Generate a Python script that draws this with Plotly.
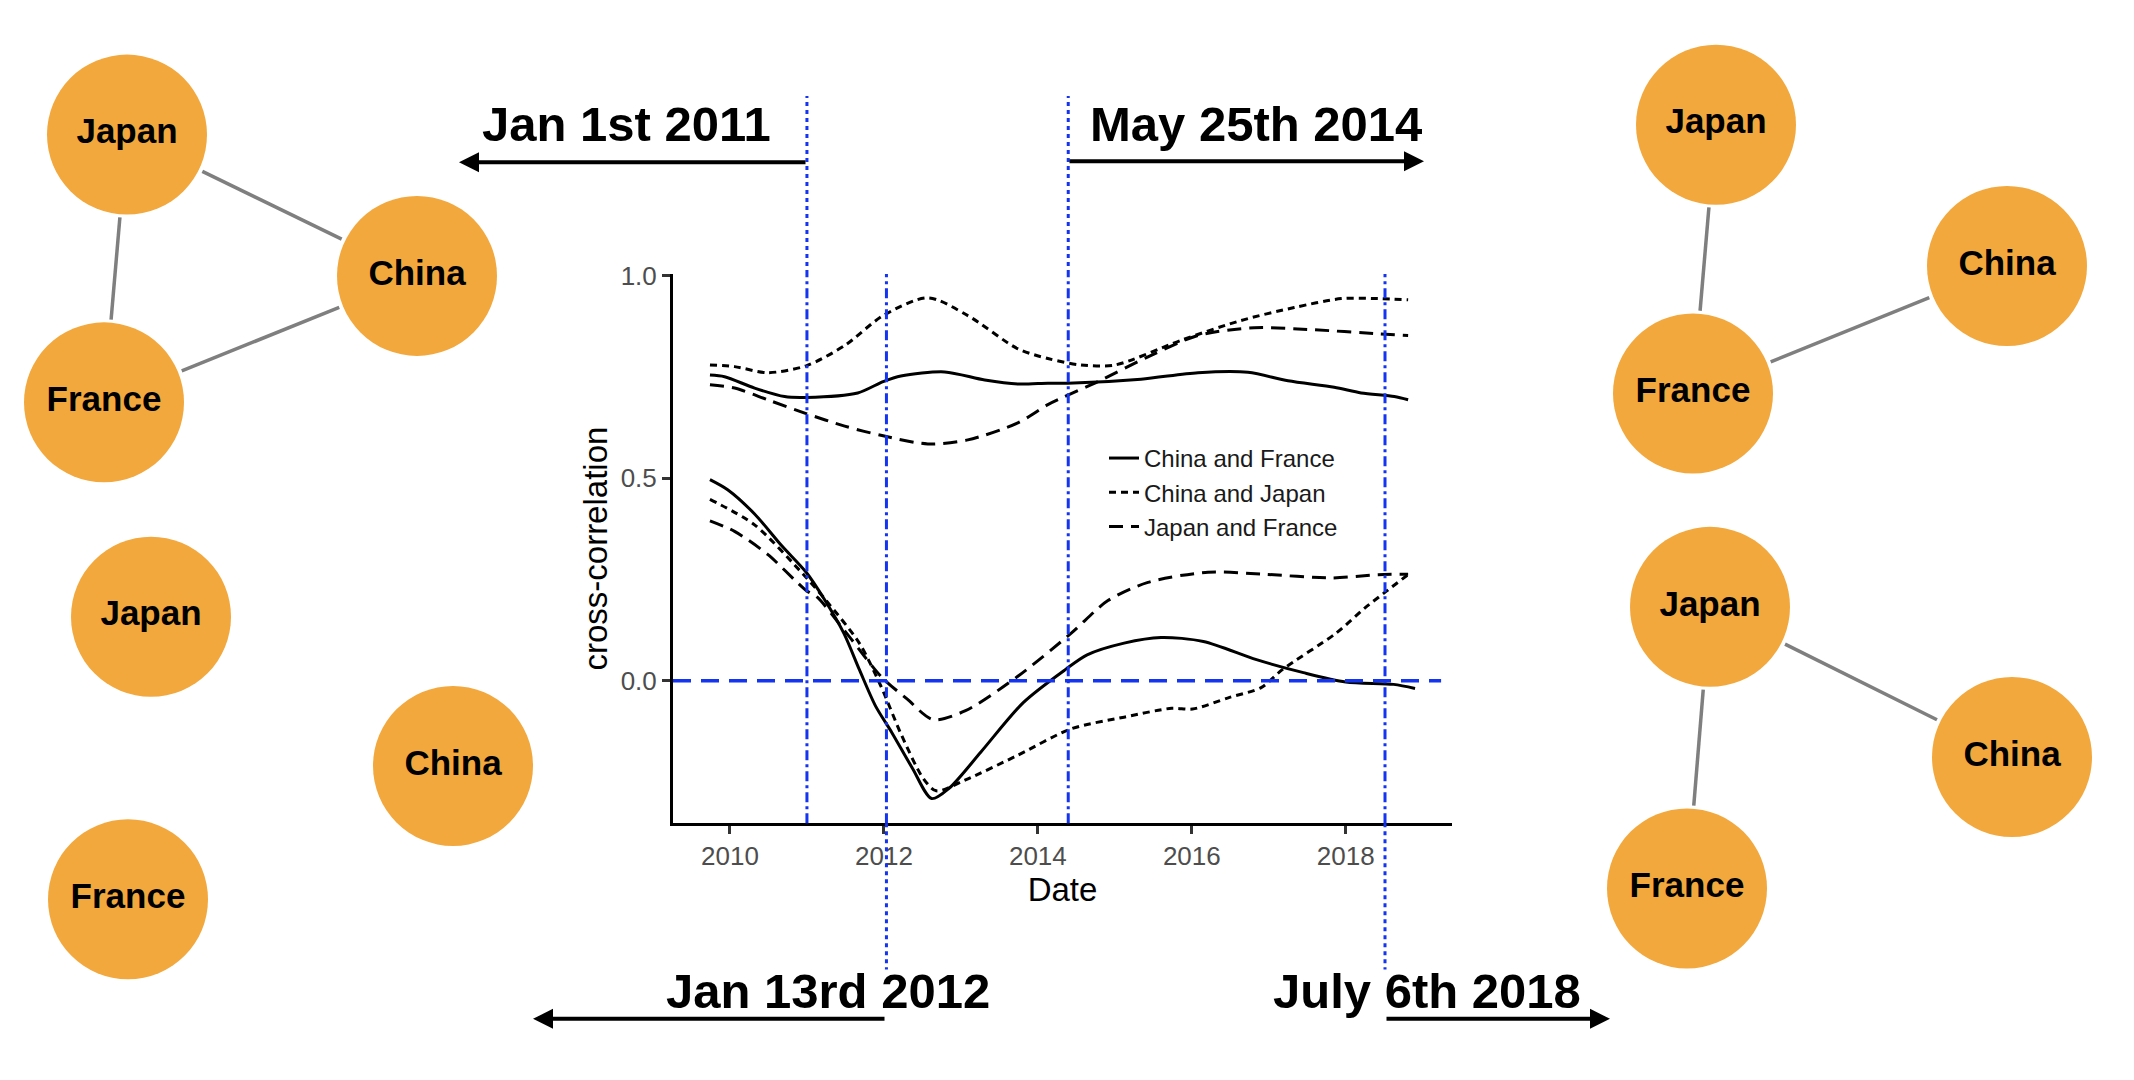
import plotly.graph_objects as go
from datetime import date

W, H = 2134, 1080

# ---- cross-correlation curves (decimal year, value) ----
cf_hi_x = [2009.74, 2009.93, 2010.32, 2010.71, 2010.99, 2011.66, 2011.99, 2012.22, 2012.79, 2013.31,
           2013.74, 2014.13, 2014.39, 2015.34, 2016.08, 2016.73, 2017.25, 2017.85, 2018.20, 2018.63, 2018.81]
cf_hi_y = [0.755, 0.751, 0.723, 0.702, 0.700, 0.711, 0.739, 0.753, 0.763, 0.743,
           0.733, 0.735, 0.735, 0.745, 0.761, 0.762, 0.741, 0.725, 0.711, 0.702, 0.694]

cj_hi_x = [2009.74, 2010.06, 2010.49, 2010.99, 2011.49, 2011.99, 2012.57, 2013.09, 2013.74, 2014.13,
           2014.56, 2015.00, 2015.86, 2016.64, 2017.33, 2017.94, 2018.42, 2018.81]
cj_hi_y = [0.780, 0.776, 0.761, 0.778, 0.828, 0.902, 0.946, 0.902, 0.820, 0.796,
           0.780, 0.780, 0.841, 0.890, 0.922, 0.944, 0.944, 0.941]

jf_hi_x = [2009.74, 2010.06, 2010.49, 2010.99, 2011.49, 2011.99, 2012.57, 2013.09, 2013.74, 2014.13,
           2014.35, 2014.78, 2015.43, 2016.08, 2016.81, 2017.59, 2018.42, 2018.81]
jf_hi_y = [0.731, 0.723, 0.694, 0.660, 0.629, 0.605, 0.585, 0.595, 0.637, 0.682,
           0.702, 0.739, 0.800, 0.853, 0.872, 0.867, 0.857, 0.853]

cf_lo_x = [2009.74, 2009.97, 2010.32, 2010.67, 2010.99, 2011.23, 2011.48, 2011.68, 2011.89, 2012.10,
           2012.37, 2012.62, 2012.85, 2013.26, 2013.81, 2014.36, 2014.64, 2015.12, 2015.60, 2016.15,
           2016.84, 2017.45, 2018.00, 2018.62, 2018.90]
cf_lo_y = [0.497, 0.472, 0.412, 0.334, 0.268, 0.200, 0.117, 0.028, -0.062, -0.127,
           -0.216, -0.291, -0.265, -0.176, -0.054, 0.028, 0.064, 0.093, 0.107, 0.097,
           0.052, 0.020, -0.003, -0.009, -0.019]

cj_lo_x = [2009.74, 2010.32, 2010.99, 2011.25, 2011.68, 2011.96, 2012.23, 2012.51, 2012.68, 2013.06,
           2013.74, 2014.43, 2015.12, 2015.74, 2016.01, 2016.49, 2016.90, 2017.18, 2017.87, 2018.25,
           2018.52, 2018.85]
cj_lo_y = [0.448, 0.385, 0.255, 0.198, 0.093, -0.013, -0.135, -0.241, -0.272, -0.245,
           -0.184, -0.119, -0.090, -0.068, -0.070, -0.041, -0.017, 0.028, 0.117, 0.180,
           0.220, 0.268]

jf_lo_x = [2009.74, 2010.06, 2010.49, 2010.99, 2011.13, 2011.55, 2011.96, 2012.30, 2012.64, 2013.06,
           2013.74, 2014.43, 2014.91, 2015.43, 2016.21, 2016.94, 2017.81, 2018.42, 2018.81]
jf_lo_y = [0.395, 0.369, 0.312, 0.223, 0.207, 0.109, 0.011, -0.045, -0.096, -0.074,
           0.011, 0.117, 0.198, 0.243, 0.268, 0.263, 0.254, 0.262, 0.263]

pair_names = ["China and France", "China and Japan", "Japan and France"]
x_ticks = [2010, 2012, 2014, 2016, 2018]
y_ticks = [0.0, 0.5, 1.0]

# ---- marked dates ----
event_dates = [date(2011, 1, 1), date(2012, 1, 13), date(2014, 5, 25), date(2018, 7, 6)]
event_labels = ["Jan 1st 2011", "Jan 13rd 2012", "May 25th 2014", "July 6th 2018"]

# ---- network snapshots (pixel positions on the page) ----
countries = ["Japan", "China", "France"]
node_x = [[119, 409, 96], [143, 445, 120], [1708, 1999, 1685], [1702, 2004, 1679]]
node_y = [[115, 258, 386], [603, 754, 889], [105, 248, 377], [593, 745, 878]]
edges = [[(0, 1), (0, 2), (2, 1)], [], [(0, 2), (2, 1)], [(0, 1), (0, 2)]]

BLUE = "#1434f0"
ORANGE = "#f2a83c"
R = 80
FONT = "Liberation Sans, Arial, sans-serif"


def dec_year(d):
    start = date(d.year, 1, 1)
    days = (date(d.year + 1, 1, 1) - start).days
    return d.year + (d - start).days / days


fig = go.Figure()

series = [(cf_hi_x, cf_hi_y, cf_lo_x, cf_lo_y, "solid"),
          (cj_hi_x, cj_hi_y, cj_lo_x, cj_lo_y, "7px,5px"),
          (jf_hi_x, jf_hi_y, jf_lo_x, jf_lo_y, "14px,8px")]
for name, (hx, hy, lx, ly, dash) in zip(pair_names, series):
    for k, (xs, ys) in enumerate([(hx, hy), (lx, ly)]):
        fig.add_trace(go.Scatter(
            x=xs, y=ys, mode="lines", name=name, legendgroup=name, showlegend=(k == 0),
            line=dict(color="black", width=3, dash=dash, shape="spline", smoothing=0.8),
            xaxis="x", yaxis="y"))

# network edges
for g in range(len(node_x)):
    ex, ey = [], []
    for a, b in edges[g]:
        x0, y0, x1, y1 = node_x[g][a], node_y[g][a], node_x[g][b], node_y[g][b]
        L = ((x1 - x0) ** 2 + (y1 - y0) ** 2) ** 0.5
        ux, uy = (x1 - x0) / L, (y1 - y0) / L
        off = R + 4
        ex += [x0 + ux * off, x1 - ux * off, None]
        ey += [y0 + uy * off, y1 - uy * off, None]
    if ex:
        fig.add_trace(go.Scatter(x=ex, y=ey, mode="lines", showlegend=False,
                                 line=dict(color="#7f7f7f", width=3.5),
                                 xaxis="x2", yaxis="y2", hoverinfo="skip"))

# network nodes
for g in range(len(node_x)):
    fig.add_trace(go.Scatter(
        x=node_x[g], y=node_y[g], mode="markers+text", showlegend=False,
        text=["<b>%s</b>" % c for c in countries],
        textposition="middle center",
        textfont=dict(family=FONT, size=35, color="black"),
        marker=dict(size=2 * R, color=ORANGE, line=dict(width=0)),
        xaxis="x2", yaxis="y2", hoverinfo="skip"))

shapes = []
shapes.append(dict(type="line", xref="x domain", yref="y", x0=0, x1=0.986, y0=0, y1=0,
                   line=dict(color=BLUE, width=3.5, dash="18px,10px")))
ev_x = [dec_year(d) for d in event_dates]
ev_above = [True, False, True, False]
for xv, above in zip(ev_x, ev_above):
    shapes.append(dict(type="line", xref="x", yref="y domain", x0=xv, x1=xv, y0=0, y1=1,
                       line=dict(color=BLUE, width=3, dash="10px,4px,3px,4px")))
    if above:
        y0, y1 = 1 - 256 / H, 1 - 76 / H
    else:
        y0, y1 = 1 - 812 / H, 1 - 960 / H
    shapes.append(dict(type="line", xref="x", yref="paper", x0=xv, x1=xv, y0=y0, y1=y1,
                       line=dict(color=BLUE, width=3, dash="4px,4px")))

# date labels and arrows (pixel layout)
lab_x = [618, 820, 1248, 1419]
lab_y = [104, 982, 104, 982]
arrow_tail = [799, 878, 1060, 1377]
arrow_head = [451, 525, 1416, 1602]
arrow_y = [143, 1010, 142, 1010]
annotations = []
for i, txt in enumerate(event_labels):
    annotations.append(dict(x=lab_x[i], y=lab_y[i], xref="x2", yref="y2", text="<b>%s</b>" % txt,
                            showarrow=False, font=dict(family=FONT, size=49, color="black")))
    annotations.append(dict(x=arrow_head[i], y=arrow_y[i], ax=arrow_tail[i], ay=arrow_y[i],
                            xref="x2", yref="y2", axref="x2", ayref="y2", text="",
                            showarrow=True, arrowhead=2, arrowsize=1.0, arrowwidth=4,
                            arrowcolor="black", standoff=0, startstandoff=0))

axis_font = dict(family=FONT, size=26, color="#4d4d4d")
title_font = dict(family=FONT, size=33, color="black")

fig.update_layout(
    width=W, height=H,
    margin=dict(l=0, r=0, t=0, b=0),
    paper_bgcolor="white", plot_bgcolor="rgba(0,0,0,0)",
    xaxis=dict(domain=[665 / W, 1444 / W], range=[2009.26, 2019.38], anchor="y",
               tickvals=x_ticks, ticktext=[str(t) for t in x_ticks],
               showline=True, linecolor="black", linewidth=3, ticks="outside", ticklen=8,
               tickwidth=2.5, tickcolor="#333333", showgrid=False, zeroline=False,
               tickfont=axis_font, title=dict(text="Date", font=title_font, standoff=6)),
    yaxis=dict(domain=[1 - 812 / H, 1 - 256 / H], range=[-0.352, 1.005], anchor="x",
               tickvals=y_ticks, ticktext=["%.1f" % t for t in y_ticks],
               showline=True, linecolor="black", linewidth=3, ticks="outside", ticklen=8,
               tickwidth=2.5, tickcolor="#333333", showgrid=False, zeroline=False,
               tickfont=axis_font, title=dict(text="cross-correlation", font=title_font, standoff=4)),
    xaxis2=dict(domain=[0, 1], range=[0, W], anchor="y2", visible=False, fixedrange=True),
    yaxis2=dict(domain=[0, 1], range=[H, 0], anchor="x2", visible=False, fixedrange=True),
    legend=dict(x=1096 / W, y=1 - 420 / H, xanchor="left", yanchor="top",
                bgcolor="rgba(0,0,0,0)", tracegroupgap=0,
                font=dict(family=FONT, size=24, color="#1a1a1a")),
    shapes=shapes,
    annotations=annotations,
)

fig.write_html("out.html")
